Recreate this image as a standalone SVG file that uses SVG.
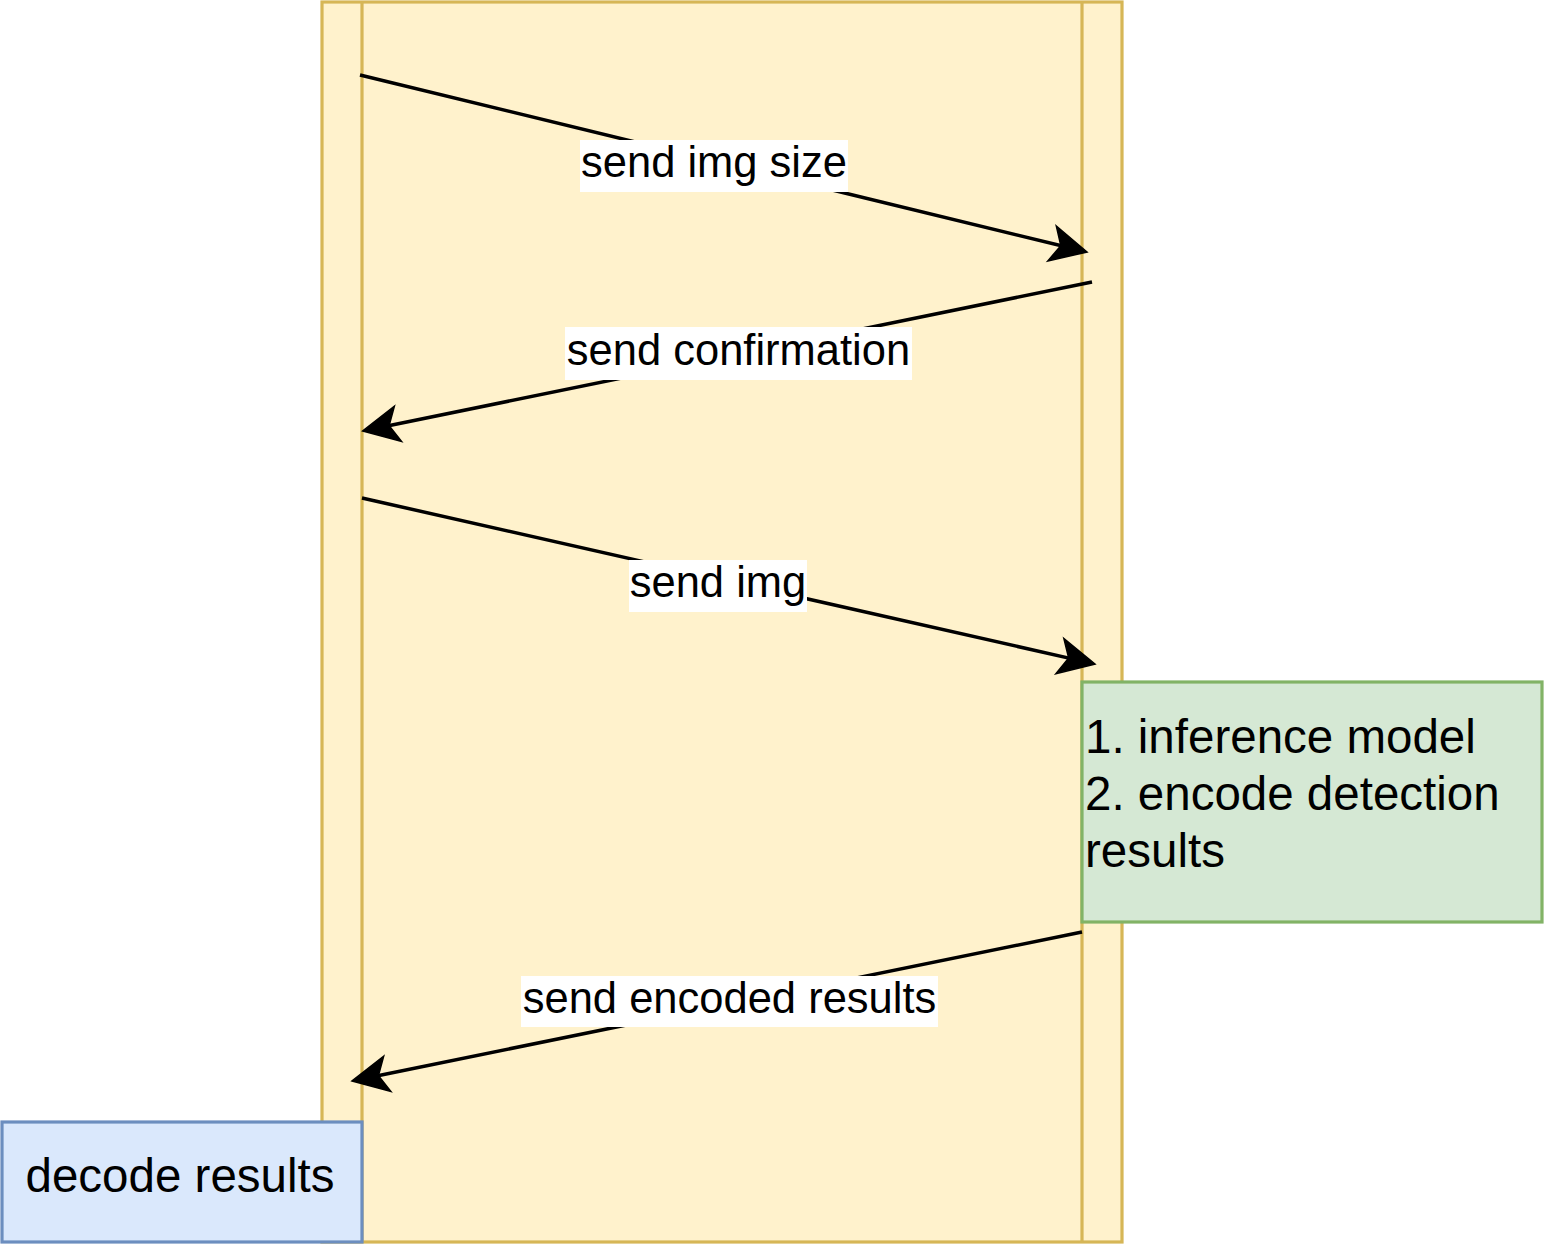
<svg xmlns="http://www.w3.org/2000/svg" width="1548" height="1244" viewBox="0 0 1548 1244">
  <style>
    .lbl { font-family: "Liberation Sans", Arial, sans-serif; font-size: 43.5px; fill: #000; text-anchor: middle; }
    .node { font-family: "Liberation Sans", Arial, sans-serif; font-size: 47.5px; fill: #000; }
    .edge { stroke: #000; stroke-width: 3.5; fill: none; marker-end: url(#arrow); }
    .lblbg { fill: #ffffff; }
  </style>
  <defs>
    <marker id="arrow" markerUnits="userSpaceOnUse" viewBox="-40 -20 44 40" markerWidth="44" markerHeight="40" refX="-20" refY="0" orient="auto" overflow="visible">
      <path d="M0,0 L-36,-18 L-27,0 L-36,18 Z" fill="#000" stroke="#000" stroke-width="1.5" stroke-linejoin="miter"/>
    </marker>
  </defs>
  <rect width="1548" height="1244" fill="#ffffff"/>

  <g id="process">
    <rect x="322" y="2" width="800" height="1240" fill="#fff2cc" stroke="#d6b656" stroke-width="3.2"/>
    <line x1="362" y1="2" x2="362" y2="1242" stroke="#d6b656" stroke-width="3.2"/>
    <line x1="1082" y1="2" x2="1082" y2="1242" stroke="#d6b656" stroke-width="3.2"/>
  </g>

  <g id="connectors">
    <g id="edge-send-img-size">
      <line class="edge" x1="360" y1="75" x2="1067.6" y2="247.3"/>
      <rect class="lblbg" x="580" y="140" width="268" height="52"/>
      <text class="lbl" x="714" y="177">send img size</text>
    </g>
    <g id="edge-send-confirmation">
      <line class="edge" x1="1092" y1="282" x2="382.3" y2="427"/>
      <rect class="lblbg" x="565" y="327" width="347" height="53"/>
      <text class="lbl" x="738.5" y="365">send confirmation</text>
    </g>
    <g id="edge-send-img">
      <line class="edge" x1="362" y1="498" x2="1075.5" y2="659.6"/>
      <rect class="lblbg" x="629" y="560" width="178" height="52"/>
      <text class="lbl" x="718" y="597">send img</text>
    </g>
    <g id="edge-send-encoded-results">
      <line class="edge" x1="1082" y1="932" x2="371.6" y2="1077"/>
      <rect class="lblbg" x="521" y="976" width="417" height="51"/>
      <text class="lbl" x="729.5" y="1013">send encoded results</text>
    </g>
  </g>

  <g id="inference">
    <rect x="1082" y="682" width="460" height="240" fill="#d5e8d4" stroke="#82b366" stroke-width="3.2"/>
    <text class="node" x="1085" y="753">1. inference model</text>
    <text class="node" x="1085" y="810">2. encode detection</text>
    <text class="node" x="1085" y="867">results</text>
  </g>

  <g id="decode">
    <rect x="2" y="1122" width="360" height="120" fill="#dae8fc" stroke="#6c8ebf" stroke-width="3.2"/>
    <text class="node" x="180" y="1192" text-anchor="middle">decode results</text>
  </g>
</svg>
